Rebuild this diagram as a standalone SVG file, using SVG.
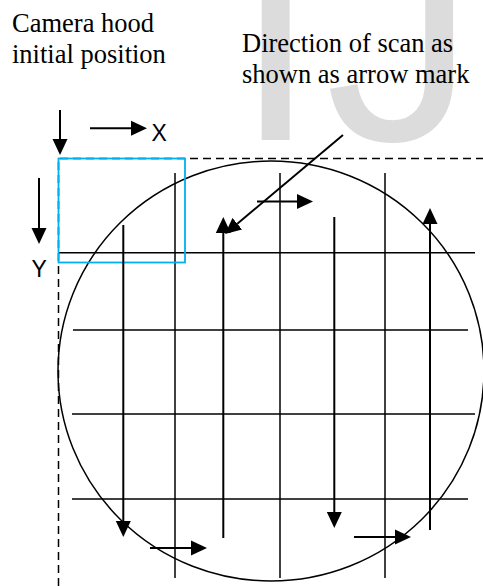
<svg xmlns="http://www.w3.org/2000/svg" width="483" height="586" viewBox="0 0 483 586">
  <style>
    .serif { font-family: "Liberation Serif", "Times New Roman", serif; font-size: 26.5px; fill: #000; }
    .sans { font-family: "Liberation Sans", Arial, sans-serif; font-size: 23px; fill: #000; }
    .grid { stroke: #000; stroke-width: 1.5; fill: none; }
    .arrow { stroke: #000; stroke-width: 2; fill: none; marker-end: url(#head); }
    .dash { stroke: #000; stroke-width: 1.5; fill: none; stroke-dasharray: 8 5; }
  </style>
  <defs>
    <marker id="head" markerUnits="userSpaceOnUse" markerWidth="16" markerHeight="16" viewBox="0 0 16 16" refX="0" refY="8" orient="auto">
      <path d="M0,0.5 L16,8 L0,15.5 z" fill="#000"/>
    </marker>
  </defs>
  <rect width="483" height="586" fill="#fff"/>

  <g id="watermark">
    <text x="234" y="140" font-family="'Liberation Sans', Arial, sans-serif" font-size="300" letter-spacing="8" fill="#dcdcdc">IJ</text>
  </g>

  <g id="labels">
    <text class="serif" x="12" y="31.5">Camera hood</text>
    <text class="serif" x="12" y="63">initial position</text>
    <text class="serif" x="242" y="51.7">Direction of scan as</text>
    <text class="serif" x="242" y="83">shown as arrow mark</text>
  </g>

  <g id="scan-area">
    <path class="dash" d="M58.5,586 V158.5 H483"/>
  </g>

  <g id="wafer">
    <ellipse cx="271" cy="371" rx="213" ry="210" fill="none" stroke="#000" stroke-width="1.5"/>
  </g>

  <g id="grid">
    <line class="grid" x1="58" y1="252.7" x2="475" y2="252.7"/>
    <line class="grid" x1="73" y1="330" x2="468" y2="330"/>
    <line class="grid" x1="72" y1="414" x2="475" y2="414"/>
    <line class="grid" x1="72" y1="499" x2="468" y2="499"/>
    <line class="grid" x1="175" y1="173" x2="175" y2="578"/>
    <line class="grid" x1="280" y1="173" x2="280" y2="578"/>
    <line class="grid" x1="385" y1="173" x2="385" y2="578"/>
  </g>

  <g id="camera-hood">
    <rect x="58.5" y="158.5" width="126.5" height="104" fill="none" stroke="#00b0f0" stroke-width="1.8"/>
  </g>

  <g id="axes">
    <line class="arrow" x1="60" y1="110" x2="60" y2="139"/>
    <line class="arrow" x1="90" y1="128.3" x2="131" y2="128.3"/>
    <text class="sans" x="151.5" y="141">X</text>
    <line class="arrow" x1="39" y1="178" x2="39" y2="228"/>
    <text class="sans" x="39.2" y="277" text-anchor="middle">Y</text>
  </g>

  <g id="connectors">
    <line class="arrow" x1="123.3" y1="225" x2="123.3" y2="521"/>
    <line class="arrow" x1="223.3" y1="538" x2="223.3" y2="233"/>
    <line class="arrow" x1="334.3" y1="217" x2="334.3" y2="512"/>
    <line class="arrow" x1="430" y1="530" x2="430" y2="224"/>
    <line class="arrow" x1="257" y1="201.5" x2="297" y2="201.5"/>
    <line class="arrow" x1="150" y1="548" x2="191" y2="548"/>
    <line class="arrow" x1="354" y1="537" x2="395" y2="537"/>
    <line class="arrow" x1="343" y1="135" x2="237.3" y2="223.7"/>
  </g>
</svg>
